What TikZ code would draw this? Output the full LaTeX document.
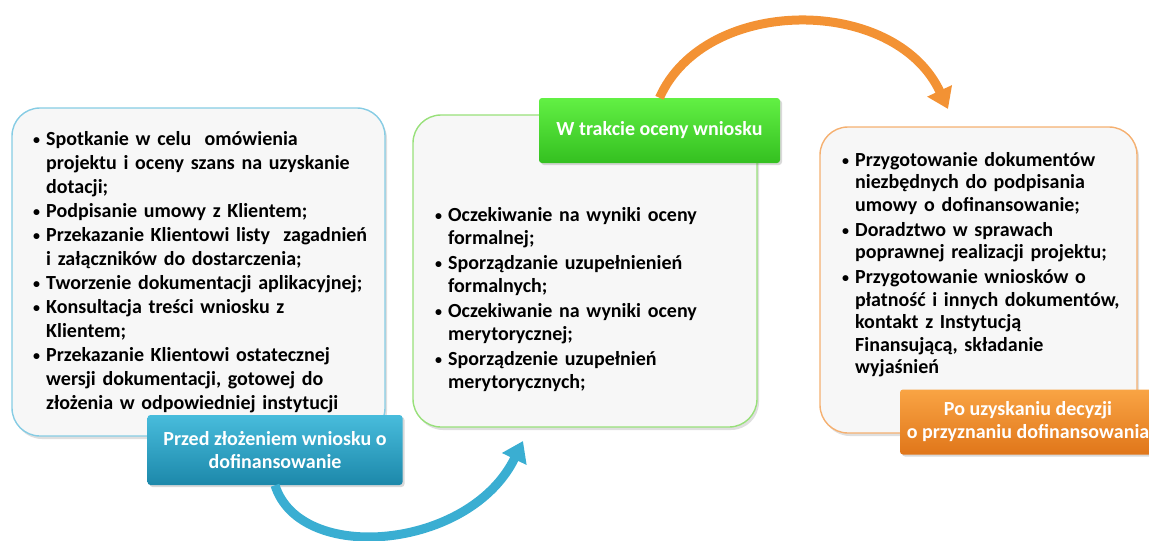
\documentclass[tikz,border=0pt]{standalone}
\usepackage{fontspec}
\setmainfont{Carlito}
\usetikzlibrary{arrows.meta,shadows,calc}
\definecolor{boxfill}{HTML}{F7F7F7}
\definecolor{bluebd}{HTML}{86CCE4}
\definecolor{greenbd}{HTML}{98E07A}
\definecolor{orangebd}{HTML}{F5B070}
\definecolor{bluetop}{HTML}{48BCDC}
\definecolor{bluebot}{HTML}{1C88AA}
\definecolor{greentop}{HTML}{62F044}
\definecolor{greenbot}{HTML}{34C020}
\definecolor{orangetop}{HTML}{F9A444}
\definecolor{orangebot}{HTML}{E0761A}
\definecolor{bluearrow}{HTML}{3AAED2}
\definecolor{orangearrow}{HTML}{F39234}
\newlength{\bw}\setlength{\bw}{13pt}
\newcommand{\itm}[1]{\par\noindent\hangindent=\bw\hangafter=1\makebox[\bw][l]{\raisebox{1pt}{\fontsize{14}{14}\selectfont•}}#1}
\newcommand{\nl}{\newline}
\tikzset{
  panel/.style={draw=#1, line width=1.4pt, fill=boxfill, rounded corners=28pt,
    drop shadow={opacity=0.25, shadow xshift=2pt, shadow yshift=-3pt}},
  label/.style={rounded corners=3pt, text=white, font=\fontsize{20}{23}\selectfont\bfseries,
    align=center, drop shadow={opacity=0.3, shadow xshift=2pt, shadow yshift=-2pt}},
  listtext/.style={anchor=north west, inner sep=0pt, text width=#1,
    font=\fontsize{20}{24}\selectfont\bfseries},
  bigarrow/.style={line width=9pt, draw=#1, -{Triangle[length=20pt,width=26pt]}}
}
\begin{document}
\begin{tikzpicture}[x=1pt,y=-1pt]
\useasboundingbox (0,0) rectangle (1149,541);
% panels
\node[panel=bluebd, minimum width=373pt, minimum height=328pt] (box1) at (198.5,272) {};
\node[panel=greenbd, minimum width=344pt, minimum height=312pt] (box2) at (585,271) {};
\node[panel=orangebd, minimum width=317pt, minimum height=306pt] (box3) at (978.5,280) {};
% texts
\node[listtext=350pt] (t1) at (33,121) {\raggedright\setlength{\parskip}{0pt}%
\itm{Spotkanie w celu\ \ omówienia\nl projektu i oceny szans na uzyskanie\nl dotacji;}
\itm{Podpisanie umowy z Klientem;}
\itm{Przekazanie Klientowi listy\ \ zagadnień\nl i załączników do dostarczenia;}
\itm{Tworzenie dokumentacji aplikacyjnej;}
\itm{Konsultacja treści wniosku z\nl Klientem;}
\itm{Przekazanie Klientowi ostatecznej\nl wersji dokumentacji, gotowej do\nl złożenia w odpowiedniej instytucji}\par};
\node[listtext=310pt, font=\fontsize{20}{22.3}\selectfont\bfseries] (t2) at (435,196) {\raggedright\setlength{\parskip}{3.4pt}%
\itm{Oczekiwanie na wyniki oceny\nl formalnej;}
\itm{Sporządzanie uzupełnienień\nl formalnych;}
\itm{Oczekiwanie na wyniki oceny\nl merytorycznej;}
\itm{Sporządzenie uzupełnień\nl merytorycznych;}\par};
\node[listtext=300pt, font=\fontsize{20}{22.5}\selectfont\bfseries] (t3) at (842,141) {\raggedright\setlength{\parskip}{2.5pt}%
\itm{Przygotowanie dokumentów\nl niezbędnych do podpisania\nl umowy o dofinansowanie;}
\itm{Doradztwo w sprawach\nl poprawnej realizacji projektu;}
\itm{Przygotowanie wniosków o\nl płatność i innych dokumentów,\nl kontakt z Instytucją\nl Finansującą, składanie\nl wyjaśnień}\par};
% labels
\node[label, top color=bluetop, bottom color=bluebot, minimum width=255pt, minimum height=70pt] (lab1) at (275,450) {Przed złożeniem wniosku o\\dofinansowanie};
\node[label, top color=greentop, bottom color=greenbot, minimum width=241pt, minimum height=65pt] (lab2) at (659.5,130.5) {W trakcie oceny wniosku};
\node[label, top color=orangetop, bottom color=orangebot, minimum width=256pt, minimum height=65pt] (lab3) at (1028,422) {Po uzyskaniu decyzji\\o przyznaniu dofinansowania};
% arrows
\coordinate (tipb) at (523,441);
\coordinate (tipo) at (948,109);
\draw[bigarrow=bluearrow] (lab1.south) .. controls (300,565) and (470,550) .. (tipb);
\draw[bigarrow=orangearrow] (lab2.north) .. controls (705,-5) and (895,-5) .. (tipo);
\end{tikzpicture}
\end{document}
